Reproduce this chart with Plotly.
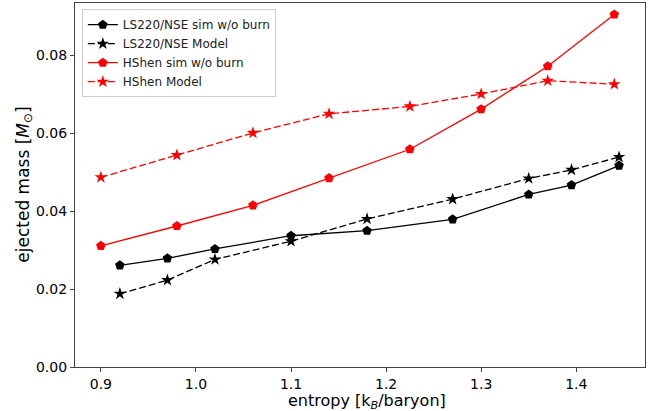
import plotly.graph_objects as go

# entropy values (k_B/baryon)
ls_x = [0.92, 0.97, 1.02, 1.10, 1.18, 1.27, 1.35, 1.395, 1.445]
ls_sim = [0.0261, 0.0279, 0.0303, 0.0337, 0.0350, 0.0379, 0.0443, 0.0467, 0.0517]
ls_model = [0.0188, 0.0223, 0.0276, 0.0323, 0.0380, 0.0431, 0.0484, 0.0506, 0.0539]

hs_x = [0.90, 0.98, 1.06, 1.14, 1.225, 1.30, 1.37, 1.44]
hs_sim = [0.0311, 0.0362, 0.0415, 0.0485, 0.0559, 0.0662, 0.0772, 0.0905]
hs_model = [0.0487, 0.0544, 0.0601, 0.0650, 0.0669, 0.0701, 0.0735, 0.0726]

x_ticks = [0.9, 1.0, 1.1, 1.2, 1.3, 1.4]
y_ticks = [0.00, 0.02, 0.04, 0.06, 0.08]

x_title = "entropy [k<sub><i>B</i></sub>/baryon]"
y_title = "ejected mass [<i>M</i><sub>⊙</sub>]"

FONT = "DejaVu Sans"
DASH = "7px,3px"

fig = go.Figure()
fig.add_trace(go.Scatter(x=ls_x, y=ls_sim, mode="lines+markers", name="LS220/NSE sim w/o burn",
                         line=dict(color="black", width=1.3),
                         marker=dict(symbol="pentagon", size=10, color="black")))
fig.add_trace(go.Scatter(x=ls_x, y=ls_model, mode="lines+markers", name="LS220/NSE Model",
                         line=dict(color="black", width=1.3, dash=DASH),
                         marker=dict(symbol="star", size=9.5, color="black")))
fig.add_trace(go.Scatter(x=hs_x, y=hs_sim, mode="lines+markers", name="HShen sim w/o burn",
                         line=dict(color="red", width=1.3),
                         marker=dict(symbol="pentagon", size=10, color="red")))
fig.add_trace(go.Scatter(x=hs_x, y=hs_model, mode="lines+markers", name="HShen Model",
                         line=dict(color="red", width=1.3, dash=DASH),
                         marker=dict(symbol="star", size=9.5, color="red")))

axis_common = dict(showline=True, mirror=True, linecolor="#444", linewidth=1.2,
                   ticks="outside", ticklen=4, tickcolor="#444", tickwidth=1,
                   showgrid=False, zeroline=False, automargin=False,
                   tickfont=dict(family=FONT, size=14, color="black"))

fig.update_xaxes(range=[0.8728, 1.4723], tickvals=x_ticks,
                 ticktext=[f"{v:.1f}" for v in x_ticks], **axis_common)
fig.update_yaxes(range=[0, 0.09345], tickvals=y_ticks,
                 ticktext=[f"{v:.2f}" for v in y_ticks], **axis_common)

fig.add_annotation(text=x_title, xref="paper", yref="paper", x=0.512, y=-0.0945,
                   xanchor="center", yanchor="middle", showarrow=False, borderpad=0,
                   font=dict(family=FONT, size=16, color="black"))
fig.add_annotation(text=y_title, xref="paper", yref="paper", x=-0.090, y=0.5,
                   xanchor="center", yanchor="middle", showarrow=False, textangle=-90,
                   font=dict(family=FONT, size=17, color="black"))

fig.update_layout(
    width=657, height=411,
    margin=dict(l=75, r=12, t=3, b=44),
    plot_bgcolor="white", paper_bgcolor="white",
    font=dict(family=FONT, size=12, color="black"),
    legend=dict(x=0.012, y=0.983, xanchor="left", yanchor="top",
                bgcolor="rgba(255,255,255,0.8)", bordercolor="#ccc", borderwidth=1,
                font=dict(family=FONT, size=12, color="#222"),
                tracegroupgap=0, itemwidth=30),
    showlegend=True,
)

fig.write_html("out.html", config={"displayModeBar": False},
               post_script="document.body.style.margin='0';document.body.style.overflow='hidden';")
